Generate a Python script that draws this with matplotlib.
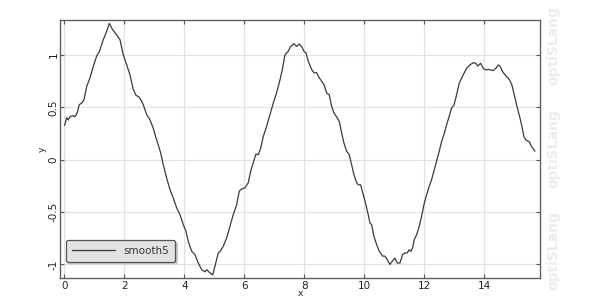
import matplotlib
matplotlib.use("Agg")
import matplotlib.pyplot as plt

plt.rcParams['font.family'] = ['DejaVu Sans']
plt.rcParams['axes.unicode_minus'] = False

x = [0.013, 0.08, 0.133, 0.19, 0.28, 0.357, 0.433, 0.50, 0.58, 0.657, 0.747, 0.857, 0.967,
     1.08, 1.167, 1.30, 1.413, 1.50, 1.613, 1.747, 1.857, 1.967, 2.08, 2.19, 2.30, 2.39, 2.50,
     2.58, 2.633, 2.747, 2.857, 2.967, 3.057, 3.133, 3.213, 3.30, 3.413, 3.523, 3.633, 3.747,
     3.857, 3.967, 4.057, 4.133, 4.247, 4.357, 4.467, 4.58, 4.69, 4.747, 4.857, 4.947, 5.023,
     5.133, 5.20, 5.30, 5.413, 5.523, 5.633, 5.747, 5.833, 5.913, 6.023, 6.133, 6.213, 6.30,
     6.39, 6.467, 6.547, 6.633, 6.747, 6.857, 6.967, 7.08, 7.19, 7.28, 7.357, 7.467, 7.547,
     7.657, 7.747, 7.833, 7.913, 7.99, 8.057, 8.133, 8.247, 8.323, 8.413, 8.50, 8.58, 8.657,
     8.747, 8.833, 8.913, 8.99, 9.10, 9.167, 9.247, 9.323, 9.413, 9.50, 9.58, 9.657, 9.747,
     9.80, 9.88, 9.967, 10.057, 10.133, 10.19, 10.247, 10.323, 10.413, 10.50, 10.613, 10.69,
     10.767, 10.857, 10.947, 11.023, 11.10, 11.19, 11.28, 11.357, 11.433, 11.50, 11.557,
     11.613, 11.667, 11.747, 11.833, 11.913, 11.99, 12.08, 12.167, 12.247, 12.323, 12.413,
     12.50, 12.58, 12.657, 12.747, 12.833, 12.913, 12.99, 13.08, 13.167, 13.30, 13.413,
     13.523, 13.633, 13.713, 13.79, 13.88, 13.967, 14.057, 14.133, 14.213, 14.30, 14.39,
     14.467, 14.523, 14.613, 14.723, 14.833, 14.923, 14.99, 15.08, 15.167, 15.247, 15.323,
     15.39, 15.50, 15.58, 15.69]
y = [0.328, 0.40, 0.38, 0.41, 0.42, 0.41, 0.45, 0.525, 0.54, 0.57, 0.70, 0.78, 0.89,
     0.99, 1.03, 1.145, 1.225, 1.30, 1.24, 1.19, 1.145, 1.00, 0.906, 0.81, 0.67, 0.615, 0.595,
     0.557, 0.525, 0.43, 0.38, 0.30, 0.207, 0.143, 0.064, -0.048, -0.175, -0.286, -0.365, -0.46,
     -0.525, -0.62, -0.683, -0.78, -0.874, -0.906, -0.986, -1.05, -1.07, -1.05, -1.08, -1.10, -1.017,
     -0.89, -0.874, -0.826, -0.747, -0.636, -0.525, -0.43, -0.30, -0.28, -0.27, -0.22, -0.11, -0.03,
     0.054, 0.048, 0.11, 0.22, 0.32, 0.43, 0.54, 0.64, 0.76, 0.875, 1.00, 1.035, 1.08,
     1.107, 1.08, 1.104, 1.08, 1.035, 1.02, 0.94, 0.86, 0.83, 0.83, 0.78, 0.75, 0.716,
     0.636, 0.62, 0.51, 0.445, 0.40, 0.366, 0.255, 0.16, 0.08, 0.048, -0.048, -0.143, -0.22,
     -0.24, -0.24, -0.334, -0.43, -0.525, -0.604, -0.62, -0.73, -0.81, -0.874, -0.92, -0.92,
     -0.954, -1.00, -0.964, -0.94, -0.986, -0.986, -0.906, -0.89, -0.89, -0.86, -0.874,
     -0.84, -0.763, -0.716, -0.636, -0.54, -0.43, -0.334, -0.254, -0.19, -0.11, -0.015,
     0.08, 0.175, 0.24, 0.334, 0.414, 0.493, 0.52, 0.62, 0.73, 0.81, 0.872,
     0.904, 0.926, 0.92, 0.894, 0.92, 0.872, 0.856, 0.862, 0.856, 0.85, 0.872,
     0.904, 0.894, 0.84, 0.80, 0.767, 0.713, 0.634, 0.522, 0.427, 0.331, 0.22,
     0.188, 0.172, 0.124, 0.083]

x_ticks = [0, 2, 4, 6, 8, 10, 12, 14]
y_ticks = [-1, -0.5, 0, 0.5, 1]
y_tick_labels = ['-1', '-0.5', '0', '0.5', '1']
series_name = 'smooth5'
watermark = 'optiSLang'

fig = plt.figure(figsize=(5.99, 2.99), dpi=100)
ax = fig.add_axes([60/599, 21/299, 480/599, 258/299])

ax.plot(x, y, color='#3a3a3a', lw=0.9, label=series_name)
ax.set_xlim(-0.143, 15.86)
ax.set_ylim(-1.129, 1.333)
ax.set_xticks(x_ticks)
ax.set_xticklabels([str(t) for t in x_ticks])
ax.set_yticks(y_ticks)
ax.set_yticklabels(y_tick_labels, rotation=90, va='center')
ax.tick_params(direction='in', length=3, width=0.8, colors='#555555', labelcolor='#222222',
               labelsize=7.5, top=True, right=True, pad=2)
ax.tick_params(axis='y', pad=1.2)
ax.grid(True, color='#e2e2e2', lw=0.9)
ax.set_axisbelow(True)
for s in ax.spines.values():
    s.set_color('#606060')
    s.set_linewidth(1.0)

ax.set_xlabel('x', fontsize=6.5, labelpad=-1, color='#222222')
ax.set_ylabel('y', fontsize=6.5, labelpad=1, color='#222222')

leg = ax.legend(loc='lower left', bbox_to_anchor=(0.0125, 0.063), fontsize=7.5,
                handlelength=4.2, handletextpad=0.8, borderpad=0.55, borderaxespad=0,
                fancybox=True, framealpha=1, facecolor='#e3e3e3', edgecolor='#555555',
                shadow={'ox': 1.5, 'oy': -1.5, 'color': '#c8c8c8', 'alpha': 1})
leg.get_frame().set_linewidth(0.9)
for t in leg.get_texts():
    t.set_color('#333333')

for yc in [0.848, 0.503, 0.162]:
    fig.text(553/599, yc, watermark, rotation=90, ha='center', va='center',
             fontsize=10, fontweight='bold', color='#ececec')

fig.savefig('out.png', dpi=100)
